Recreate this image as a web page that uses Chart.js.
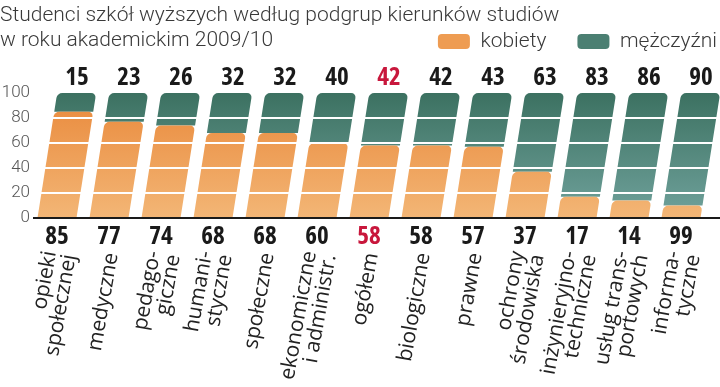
<!DOCTYPE html>
<html lang="pl">
<head>
<meta charset="utf-8">
<title>Studenci szkół wyższych</title>
<script src="https://cdn.jsdelivr.net/npm/chart.js@4.4.1/dist/chart.umd.min.js"></script>
<style>
    body { margin: 0; background: #fff; }
    #wrap { width: 720px; height: 387px; position: relative; }
</style>
</head>
<body>
<div id="wrap"><canvas id="chart"></canvas></div>
<script>
const categories = [
    ['opieki', 'społecznej'], ['medyczne'], ['pedago-', 'giczne'], ['humani-', 'styczne'],
    ['społeczne'], ['ekonomiczne', 'i administr.'], ['ogółem'], ['biologiczne'], ['prawne'],
    ['ochrony', 'środowiska'], ['inżynieryjno-', 'techniczne'], ['usług trans-', 'portowych'],
    ['informa-', 'tyczne']
];
const women = [85, 77, 74, 68, 68, 60, 58, 58, 57, 37, 17, 14, 10];
const men = [15, 23, 26, 32, 32, 40, 42, 42, 43, 63, 83, 86, 90];
// numbers printed under the bars, as they appear in the original
const womenText = ['85', '77', '74', '68', '68', '60', '58', '58', '57', '37', '17', '14', '99'];
const menText = ['15', '23', '26', '32', '32', '40', '42', '42', '43', '63', '83', '86', '90'];
const yTicks = [0, 20, 40, 60, 80, 100];
const highlightIndex = 6;

const sans = "'Open Sans', sans-serif";
const light = "Roboto, sans-serif";
const red = '#c8173c';
const skew = 20 / 127;

function gradient(chart, top, bottom) {
    const area = chart.chartArea;
    if (!area) return top;
    const g = chart.ctx.createLinearGradient(0, area.top, 0, area.bottom);
    g.addColorStop(0, top);
    g.addColorStop(1, bottom);
    return g;
}

const skewPlugin = {
    id: 'skewBars',
    afterLayout(chart) {
        // legend sits on the second title line, flush right
        chart.legend.left += 41;
        chart.legend.right += 41;
    },
    beforeDatasetsDraw(chart) {
        const base = chart.scales.y.getPixelForValue(0);
        chart.ctx.save();
        chart.ctx.transform(1, 0, -skew, 1, skew * base, 0);
    },
    afterDatasetsDraw(chart) {
        const ctx = chart.ctx;
        ctx.restore();
        const y = chart.scales.y;
        const area = chart.chartArea;
        ctx.save();
        ctx.strokeStyle = '#fff';
        ctx.lineWidth = 2;
        yTicks.forEach(v => {
            if (v === 0 || v === 100) return;
            const py = Math.round(y.getPixelForValue(v));
            ctx.beginPath();
            ctx.moveTo(area.left, py);
            ctx.lineTo(chart.width, py);
            ctx.stroke();
        });
        const base = y.getPixelForValue(0);
        ctx.strokeStyle = '#1a1a1a';
        ctx.beginPath();
        ctx.moveTo(area.left + 2, base);
        ctx.lineTo(chart.width, base);
        ctx.stroke();
        ctx.restore();
    },
    afterDraw(chart) {
        const ctx = chart.ctx;
        const x = chart.scales.x;
        ctx.save();
        ctx.fillStyle = '#222';
        ctx.font = "21px 'Open Sans', sans-serif";
        ctx.textAlign = 'right';
        ctx.textBaseline = 'middle';
        const lh = 20;
        categories.forEach((lines, i) => {
            ctx.save();
            ctx.translate(x.getPixelForValue(i) + 3, 253);
            ctx.rotate(-80 * Math.PI / 180);
            lines.forEach((t, k) => {
                ctx.fillText(t, 0, (k - (lines.length - 1) / 2) * lh);
            });
            ctx.restore();
        });
        ctx.restore();
    }
};

new Chart(document.getElementById('chart'), {
    type: 'bar',
    data: {
        labels: categories,
        datasets: [
            {
                label: 'kobiety',
                data: women,
                backgroundColor: c => gradient(c.chart, '#e9893b', '#f3b676')
            },
            {
                label: 'mężczyźni',
                data: men,
                backgroundColor: c => gradient(c.chart, '#3c7161', '#70a29c')
            }
        ]
    },
    options: {
        responsive: true,
        maintainAspectRatio: false,
        animation: false,
        layout: { padding: { top: 0, right: 13, bottom: 132, left: 0 } },
        datasets: {
            bar: {
                categoryPercentage: 1,
                barPercentage: 0.75,
                borderRadius: { topLeft: 5, topRight: 5, bottomLeft: 0, bottomRight: 0 },
                borderSkipped: false,
                clip: false
            }
        },
        plugins: {
            tooltip: { enabled: false },
            title: {
                display: true,
                align: 'start',
                text: ['Studenci szkół wyższych według podgrup kierunków studiów', 'w roku akademickim 2009/10'],
                color: '#3a3a3a',
                font: { family: light, size: 21, weight: '300', lineHeight: 1.19 },
                padding: { top: 3, bottom: -53 }
            },
            legend: {
                position: 'top',
                align: 'end',
                labels: {
                    color: '#3a3a3a',
                    font: { family: light, size: 21, weight: '300' },
                    boxWidth: 32,
                    boxHeight: 15,
                    padding: 31,
                    useBorderRadius: true,
                    borderRadius: 4,
                    generateLabels: chart => {
                        const cols = ['#ee9c52', '#4b7f72'];
                        return Chart.defaults.plugins.legend.labels.generateLabels(chart).map((item, i) =>
                            Object.assign(item, { fillStyle: cols[i], strokeStyle: cols[i], lineWidth: 0 }));
                    }
                }
            }
        },
        scales: {
            x: {
                stacked: true,
                grid: { display: false, drawTicks: false },
                border: { display: false },
                ticks: {
                    autoSkip: false,
                    maxRotation: 0,
                    padding: 6,
                    font: { family: sans, size: 25, weight: 'bold condensed', lineHeight: 1 },
                    color: c => c.index === highlightIndex ? red : '#1a1a1a',
                    callback: (value, index) => womenText[index]
                }
            },
            xTop: {
                type: 'category',
                position: 'top',
                labels: menText,
                offset: true,
                grid: { display: false, drawTicks: false },
                border: { display: false },
                ticks: {
                    autoSkip: false,
                    maxRotation: 0,
                    padding: 3,
                    labelOffset: 20,
                    font: { family: sans, size: 25, weight: 'bold condensed', lineHeight: 1 },
                    color: c => c.index === highlightIndex ? red : '#1a1a1a'
                }
            },
            y: {
                stacked: true,
                min: 0,
                max: 100,
                grid: { display: false, drawTicks: false },
                border: { display: false },
                afterFit: scale => { scale.width = 31; },
                ticks: {
                    stepSize: 20,
                    autoSkip: false,
                    padding: 1,
                    color: '#555',
                    font: { family: light, size: 17, weight: '300' }
                }
            }
        }
    },
    plugins: [skewPlugin]
});
</script>
</body>
</html>
